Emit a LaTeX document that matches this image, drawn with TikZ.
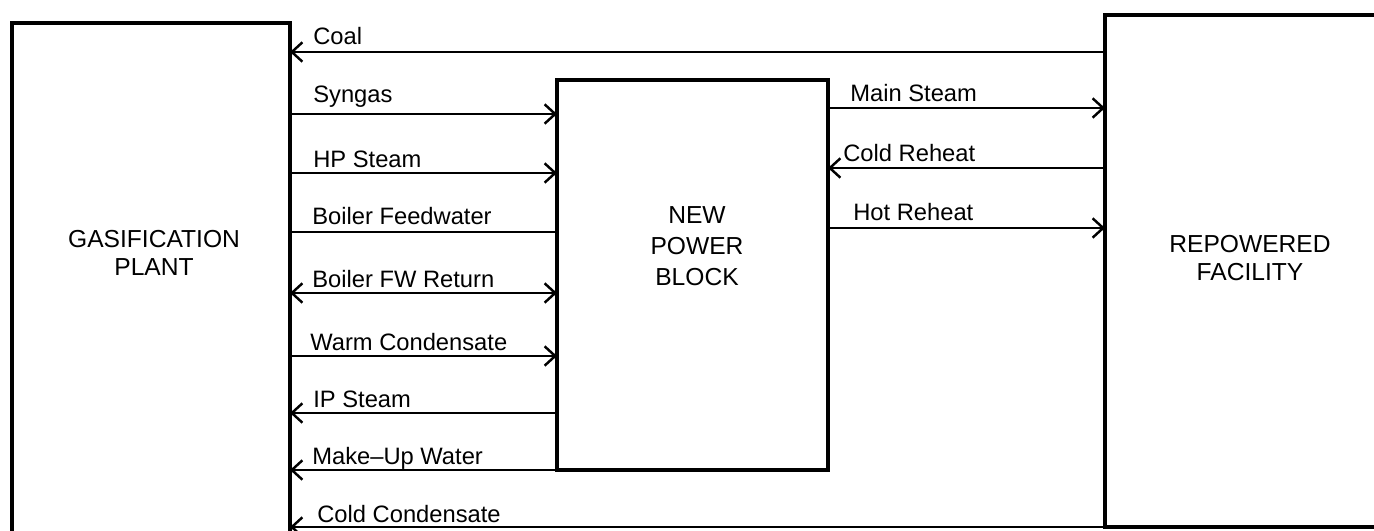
\documentclass[tikz,border=0pt]{standalone}
\usepackage{fontspec}
\setmainfont{Liberation Sans}
\usetikzlibrary{arrows.meta}

\begin{document}
\begin{tikzpicture}[
        x=0.2mm, y=0.2mm,
        unit/.style={rectangle, draw, line width=2pt, inner sep=0pt, outer sep=0pt},
        unitname/.style={align=center, inner sep=0pt, font=\fontsize{14}{15.5}\selectfont},
        stream/.style={line width=1.4pt},
        arrow/.style={stream, -{Straight Barb[length=6pt,width=11pt]}},
        tag/.style={anchor=base west, inner sep=0pt, font=\fontsize{13.5}{15}\selectfont}
    ]
        \useasboundingbox (0,0) rectangle (1374,530);
        \clip (0,0) rectangle (1374,530);

        % the three plant blocks
        \node[unit, minimum width=55.6mm, minimum height=108mm] (gasif) at (151,237) {};
        \node[unit, minimum width=54.2mm, minimum height=78mm] (power) at (692.5,255) {};
        \node[unit, minimum width=63mm, minimum height=102.4mm] (repow) at (1262.5,259) {};

        \node[unitname] (gasifname) at (154,277) {GASIFICATION\\PLANT};
        \node[unitname, font=\fontsize{14}{17.5}\selectfont] (powername) at (697,284) {NEW\\POWER\\BLOCK};
        \node[unitname] (repowname) at (1250,272) {REPOWERED\\FACILITY};

        % streams between gasification plant and power block
        \draw[arrow] (repow.west |- 0,478) -- (gasif.east |- 0,478);
        \draw[arrow] (gasif.east |- 0,416) -- (power.west |- 0,416);
        \draw[arrow] (gasif.east |- 0,357) -- (power.west |- 0,357);
        \draw[stream] (gasif.east |- 0,298) -- (power.west |- 0,298);
        \draw[arrow, {Straight Barb[length=6pt,width=11pt]}-{Straight Barb[length=6pt,width=11pt]}] (gasif.east |- 0,237) -- (power.west |- 0,237);
        \draw[arrow] (gasif.east |- 0,174) -- (power.west |- 0,174);
        \draw[arrow] (power.west |- 0,117) -- (gasif.east |- 0,117);
        \draw[arrow] (power.south west) -- (gasif.east |- power.south west);
        \draw[arrow] (repow.south west) -- (gasif.east |- repow.south west);

        \node[tag] (coaltag) at (313,485) {Coal};
        \node[tag] (syngastag) at (313,427) {Syngas};
        \node[tag] (hptag) at (313,362) {HP Steam};
        \node[tag] (bfwtag) at (312,305) {Boiler Feedwater};
        \node[tag] (bfwrtag) at (312,243) {Boiler FW Return};
        \node[tag] (warmtag) at (310,180) {Warm Condensate};
        \node[tag] (iptag) at (313,123) {IP Steam};
        \node[tag] (makeuptag) at (312,66) {Make--Up Water};
        \node[tag] (coldtag) at (317,8) {Cold Condensate};

        % streams between power block and repowered facility
        \draw[arrow] (power.east |- 0,422) -- (repow.west |- 0,422);
        \draw[arrow] (repow.west |- 0,362) -- (power.east |- 0,362);
        \draw[arrow] (power.east |- 0,302) -- (repow.west |- 0,302);

        \node[tag] (maintag) at (850,428) {Main Steam};
        \node[tag] (crhtag) at (843,368) {Cold Reheat};
        \node[tag] (hrhtag) at (853,310) {Hot Reheat};
    \end{tikzpicture}
\end{document}
